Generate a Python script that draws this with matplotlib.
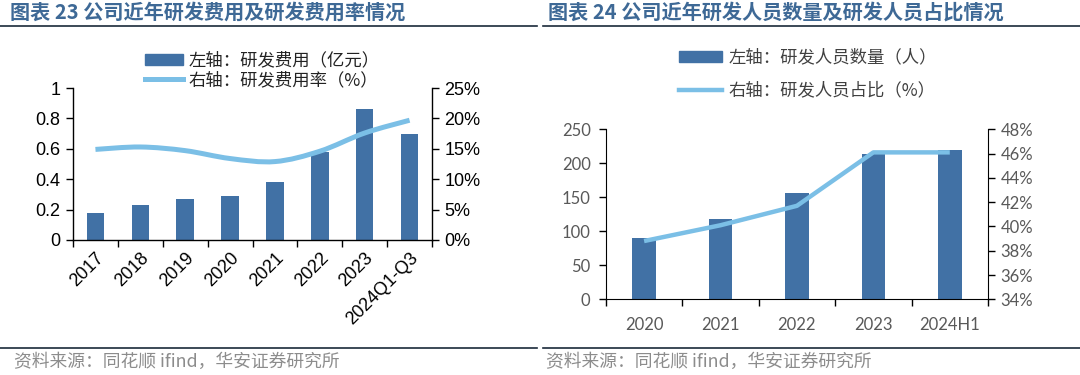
import matplotlib.pyplot as plt
from matplotlib.path import Path
from matplotlib.patches import PathPatch
from matplotlib.lines import Line2D
from matplotlib.patches import Patch
from matplotlib.ticker import PercentFormatter
import numpy as np

plt.rcParams['font.family'] = ['Noto Sans CJK SC', 'DejaVu Sans']

# 图表23 数据
years_l = ["2017", "2018", "2019", "2020", "2021", "2022", "2023", "2024Q1-Q3"]
rd_cost = [0.18, 0.23, 0.27, 0.29, 0.38, 0.58, 0.86, 0.70]
rd_rate = [14.9, 15.3, 14.7, 13.4, 12.9, 14.6, 17.6, 19.7]

# 图表24 数据
years_r = ["2020", "2021", "2022", "2023", "2024H1"]
rd_staff = [90, 118, 156, 214, 219]
staff_ratio = [38.8, 40.1, 41.7, 46.1, 46.1]

BAR = "#4171A5"
LINE = "#7BBFE6"
TITLE = "#3E6996"
GREY = "#595959"
SRC = "#8C8C8C"

fig = plt.figure(figsize=(10.8, 3.75), dpi=100)


def smooth_path(x, y):
    # Excel-style smoothed line as cubic bezier segments
    x = np.asarray(x, float)
    y = np.asarray(y, float)
    pts = np.column_stack([x, y])
    n = len(pts)
    verts = [pts[0]]
    codes = [Path.MOVETO]
    for i in range(n - 1):
        p0 = pts[max(i - 1, 0)]
        p1 = pts[i]
        p2 = pts[i + 1]
        p3 = pts[min(i + 2, n - 1)]
        c1 = p1 + (p2 - p0) / 6.0
        c2 = p2 - (p3 - p1) / 6.0
        verts += [c1, c2, p2]
        codes += [Path.CURVE4] * 3
    return Path(verts, codes)


# ---------- 左图 ----------
ax1 = fig.add_axes([0.0676, 0.36, 0.3324, 0.4053])
x1 = np.arange(len(years_l))
ax1.bar(x1, rd_cost, width=0.39, color=BAR, zorder=2)
ax1.set_xlim(-0.5, len(years_l) - 0.5)
ax1.set_ylim(0, 1)
ax1.set_yticks([0, 0.2, 0.4, 0.6, 0.8, 1])
ax1.set_yticklabels(["0", "0.2", "0.4", "0.6", "0.8", "1"])
ax1.set_xticks(x1)
ax1.set_xticklabels(years_l, rotation=45, ha="right", rotation_mode="anchor")
ax1.set_xticks(np.arange(-0.5, len(years_l)), minor=True)
ax1.tick_params(axis="x", which="major", length=0, pad=7,
                labelsize=13, labelfontfamily="Liberation Sans")
ax1.tick_params(axis="x", which="minor", length=5, direction="out", width=1)
ax1.tick_params(axis="y", length=5, direction="out", width=1, pad=4,
                labelsize=13, labelfontfamily="Liberation Sans")
for s in ["top", "right"]:
    ax1.spines[s].set_visible(False)
ax1.spines["left"].set_linewidth(1)
ax1.spines["bottom"].set_linewidth(1)

ax1r = ax1.twinx()
ax1r.set_ylim(0, 25)
ax1r.yaxis.set_major_formatter(PercentFormatter(decimals=0))
ax1r.set_yticks([0, 5, 10, 15, 20, 25])
ax1r.tick_params(axis="y", length=5, direction="out", width=1, pad=4,
                 labelsize=13, labelfontfamily="Liberation Sans")
for s in ["top", "left", "bottom"]:
    ax1r.spines[s].set_visible(False)
ax1r.spines["right"].set_linewidth(1)
ax1r.add_patch(PathPatch(smooth_path(x1, rd_rate), fill=False,
                         edgecolor=LINE, lw=3.6, capstyle="butt", zorder=3))

fig.legend(handles=[Patch(color=BAR), Line2D([], [], color=LINE, lw=3.6)],
           labels=["左轴：研发费用（亿元）", "右轴：研发费用率（%）"],
           loc="upper left", bbox_to_anchor=(0.12, 0.905), frameon=False,
           fontsize=12.5, handlelength=2.2, handleheight=0.6,
           handletextpad=0.3, labelspacing=0.1, labelcolor="#222222")

# ---------- 右图 ----------
ax2 = fig.add_axes([0.561, 0.2018, 0.3538, 0.4534])
x2 = np.arange(len(years_r))
ax2.bar(x2, rd_staff, width=0.31, color=BAR, zorder=2)
ax2.set_xlim(-0.5, len(years_r) - 0.5)
ax2.set_ylim(0, 250)
ax2.set_yticks(range(0, 251, 50))
ax2.set_xticks(x2)
ax2.set_xticklabels(years_r)
ax2.set_xticks(np.arange(-0.5, len(years_r)), minor=True)
ax2.tick_params(axis="x", which="major", length=0, pad=13, labelsize=12,
                labelcolor=GREY, labelfontfamily="Lato")
ax2.tick_params(axis="x", which="minor", length=5, direction="out", width=1)
ax2.tick_params(axis="y", length=5, direction="out", width=1, pad=6,
                labelsize=12, labelcolor=GREY, labelfontfamily="Lato")
for s in ["top", "right"]:
    ax2.spines[s].set_visible(False)

ax2r = ax2.twinx()
ax2r.plot(x2, staff_ratio, color=LINE, lw=3.2, solid_capstyle="butt", zorder=3)
ax2r.set_ylim(34, 48)
ax2r.set_yticks(range(34, 49, 2))
ax2r.yaxis.set_major_formatter(PercentFormatter(decimals=0))
ax2r.tick_params(axis="y", length=5, direction="out", width=1, pad=4,
                 labelsize=12, labelcolor=GREY, labelfontfamily="Lato")
for s in ["top", "left", "bottom"]:
    ax2r.spines[s].set_visible(False)

fig.legend(handles=[Patch(color=BAR), Line2D([], [], color=LINE, lw=3.2)],
           labels=["左轴：研发人员数量（人）", "右轴：研发人员占比（%）"],
           loc="upper left", bbox_to_anchor=(0.614, 0.912), frameon=False,
           fontsize=12.5, handlelength=2.5, handleheight=0.6,
           handletextpad=0.35, labelspacing=0.85, labelcolor="#404040")

# ---------- 标题、分割线与来源 ----------
fig.text(0.009, 0.968, "图表 23 公司近年研发费用及研发费用率情况", color=TITLE,
         fontsize=14.5, fontweight="bold", va="center")
fig.text(0.507, 0.968, "图表 24 公司近年研发人员数量及研发人员占比情况", color=TITLE,
         fontsize=14.5, fontweight="bold", va="center")
for x0, x1_ in [(0.0, 0.497), (0.503, 1.0)]:
    fig.add_artist(Line2D([x0, x1_], [0.932, 0.932], color="#1a2a3a", lw=1.2))
    fig.add_artist(Line2D([x0, x1_], [0.072, 0.072], color="#1a2a3a", lw=1.2))
fig.text(0.013, 0.034, "资料来源：同花顺 ifind，华安证券研究所", color=SRC,
         fontsize=12.8, va="center")
fig.text(0.506, 0.034, "资料来源：同花顺 ifind，华安证券研究所", color=SRC,
         fontsize=12.8, va="center")

fig.savefig("out.png", dpi=100)
